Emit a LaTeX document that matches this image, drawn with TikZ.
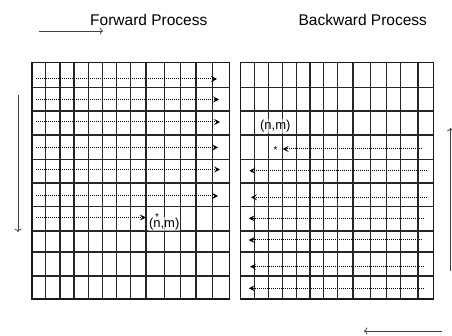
\documentclass[tikz,border=0pt]{standalone}
\usepackage{fontspec}
\setmainfont{Liberation Sans}
\usetikzlibrary{arrows.meta}
\tikzset{
  gridline/.style={draw=black!85, line width=1.1pt},
  gridframe/.style={draw=black!90, line width=1.4pt},
  scanarrow/.style={dash pattern=on 0.9pt off 1.1pt, line width=1pt, -{Stealth[length=6pt,width=6pt,inset=2.5pt]}},
  dirarrow/.style={draw=black!75, line width=0.8pt, ->},
  title/.style={font=\fontsize{15.5}{18}\selectfont, anchor=base, inner sep=0pt},
  pixlabel/.style={font=\fontsize{13}{15}\selectfont, inner sep=1pt, fill=white, fill opacity=0.6, text opacity=1},
}
\begin{document}
\begin{tikzpicture}[x=1pt, y=-1pt]
\useasboundingbox (0,0) rectangle (452,336);
% titles and direction arrows
\node[title] (fwd) at (148.8,25.5) {Forward Process};
\node[title] (bwd) at (362.8,25.5) {Backward Process};
\draw[dirarrow] (39,31) -- (103,31);
\draw[dirarrow] (441.7,331) -- (364,331);
\draw[dirarrow] (18,95) -- (18,232);
\draw[dirarrow] (450.5,271.5) -- (450.5,128);
% left grid
\foreach \y in {87.3,111,135,159.3,183,206.7,231,252,276}
  \draw[gridline] (32,\y) -- (229.3,\y);
\foreach \x in {45.7,60,74,88.3,102.3,116.3,130.3,146,164.3,180.3,196,212.7}
  \draw[gridline] (\x,62.5) -- (\x,299);
\draw[gridframe] (32,62.5) rectangle (229.3,299);
% right grid
\foreach \y in {87.3,111,135,159.3,183,206.7,231,252,276}
  \draw[gridline] (240.7,\y) -- (433.3,\y);
\foreach \x in {254.7,268.7,282.3,296.3,310,323.7,337.3,353,370.7,386.3,400.3,418}
  \draw[gridline] (\x,62.5) -- (\x,299);
\draw[gridframe] (240.7,62.5) rectangle (433.3,299);
% forward scan
\foreach \y/\e in {79/217,99.5/219,122/220,147.5/218,169.5/220,196/218}
  \draw[scanarrow] (36,\y) -- (\e,\y);
\node[pixlabel] (nmf) at (164.2,224)
  {({\ooalign{n\cr\hidewidth\raisebox{0.55em}{\fontsize{10}{10}\selectfont *}\hidewidth\cr}},m)};
\draw[scanarrow] (36,217.5) -- ([xshift=-2pt]nmf.west |- 0,217.5);
% backward scan
\node[pixlabel] (nmb) at (275.3,126) {(n,m)};
\node[font=\fontsize{10}{10}\selectfont, inner sep=1pt] (star) at (275.5,150.5) {*};
\draw[scanarrow] (421.7,149) -- ([xshift=4pt]star.east |- 0,149);
\foreach \y/\s/\e in {170.7/426.7/249.3,197.3/426.7/251,218.3/424/248.7,240/422/248.7,266.7/424/250,288.3/424/248.7}
  \draw[scanarrow] (\s,\y) -- (\e,\y);
\end{tikzpicture}
\end{document}
